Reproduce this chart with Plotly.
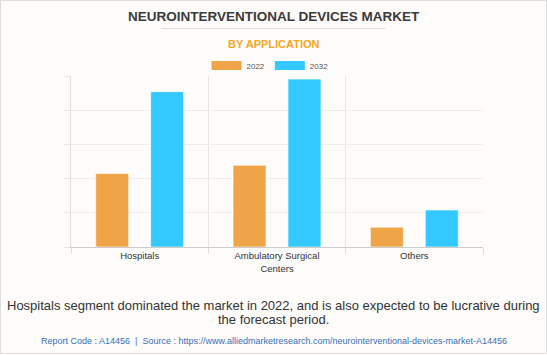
import plotly.graph_objects as go

# ---- data ----
categories = ["Hospitals", "Ambulatory Surgical<br>Centers", "Others"]
series_names = ["2022", "2032"]
values_2022 = [2.15, 2.39, 0.58]
values_2032 = [4.54, 4.91, 1.08]
title_text = "NEUROINTERVENTIONAL DEVICES MARKET"
subtitle_text = "BY APPLICATION"
caption_lines = [
    "Hospitals segment dominated the market in 2022, and is also expected to be lucrative during",
    "the forecast period.",
]
source_text = ("Report Code : A14456  |  Source : "
               "https://www.alliedmarketresearch.com/neurointerventional-devices-market-A14456")

# ---- layout geometry ----
W, H = 547, 355
L, R, T, B = 71, 64, 76, 108
PW, PH = W - L - R, H - T - B
PLOT_BOTTOM = H - B


def xp(px):
    return (px - L) / PW


def yp(py):
    return (PLOT_BOTTOM - py) / PH


FONT = "Liberation Sans, Arial, sans-serif"
ORANGE = "#F0A448"
BLUE = "#33C8FF"
BG = "#FDFCFA"
colors = [ORANGE, BLUE]

fig = go.Figure()
for name, vals, col in zip(series_names, [values_2022, values_2032], colors):
    fig.add_trace(go.Bar(
        x=categories, y=vals, name=name, legendgroup=name, showlegend=False,
        marker=dict(color=col, line=dict(color="rgba(255,255,255,0.6)", width=1)),
        hoverinfo="x+y+name",
    ))
# legend keys as wide flat swatches (same series, no data of their own)
for name, col in zip(series_names, colors):
    fig.add_trace(go.Scatter(
        x=[None], y=[None], name=name, legendgroup=name, mode="lines",
        line=dict(color=col, width=9), showlegend=True, hoverinfo="skip",
    ))

fig.update_layout(
    width=W, height=H,
    margin=dict(l=L, r=R, t=T, b=B, pad=0),
    paper_bgcolor=BG, plot_bgcolor=BG,
    barmode="group", bargap=0.2, bargroupgap=0.4,
    font=dict(family=FONT, color="#333333"),
    showlegend=True,
    legend=dict(
        orientation="h", x=xp(270), xanchor="center", y=yp(65.5), yanchor="middle",
        font=dict(size=8, color="#555555"), bgcolor="rgba(0,0,0,0)",
        itemwidth=30, traceorder="normal", tracegroupgap=0,
    ),
    xaxis=dict(
        type="category", tickson="boundaries", showgrid=True, gridcolor="#E6E6E6",
        ticks="outside", ticklen=6, tickcolor="#DDDDDD",
        showline=True, linecolor="#CCCCCC", linewidth=1,
        tickfont=dict(size=9.5, color="#333333"), fixedrange=True,
    ),
    yaxis=dict(
        range=[0, 5], dtick=1, showticklabels=False, showgrid=True, gridcolor="#EEEEEE",
        ticks="outside", ticklen=6, tickcolor="#E6E6E6",
        showline=True, linecolor="#DDDDDD", linewidth=1, zeroline=False, fixedrange=True,
    ),
    annotations=[
        dict(text="<b>" + title_text + "</b>", x=xp(273.5), y=yp(16.7), xref="paper", yref="paper",
             xanchor="center", yanchor="middle", showarrow=False,
             font=dict(size=13.5, color="#3A3A3A", family=FONT)),
        dict(text="<b>" + subtitle_text + "</b>", x=xp(273.5), y=yp(44), xref="paper", yref="paper",
             xanchor="center", yanchor="middle", showarrow=False,
             font=dict(size=11, color="#F5A623", family=FONT)),
        dict(text=caption_lines[0], x=xp(273.5), y=yp(305), xref="paper", yref="paper",
             xanchor="center", yanchor="middle", showarrow=False,
             font=dict(size=13, color="#333333", family=FONT)),
        dict(text=caption_lines[1], x=xp(273.5), y=yp(319), xref="paper", yref="paper",
             xanchor="center", yanchor="middle", showarrow=False,
             font=dict(size=13, color="#333333", family=FONT)),
        dict(text=source_text, x=xp(273.5), y=yp(340.5), xref="paper", yref="paper",
             xanchor="center", yanchor="middle", showarrow=False,
             font=dict(size=9, color="#3A6FB5", family=FONT)),
    ],
    shapes=[
        dict(type="line", xref="paper", yref="paper", x0=xp(161.5), x1=xp(385.6),
             y0=yp(28.5), y1=yp(28.5), line=dict(color="#DDDDDD", width=1)),
        dict(type="rect", xref="paper", yref="paper", x0=xp(0.5), x1=xp(W - 0.5),
             y0=yp(0.5), y1=yp(H - 1.5), line=dict(color="#DDDDDD", width=1),
             fillcolor="rgba(0,0,0,0)"),
    ],
)

fig.write_html(
    "out.html",
    config={"displayModeBar": False},
    post_script="document.body.style.margin='0';document.body.style.padding='0';",
)
